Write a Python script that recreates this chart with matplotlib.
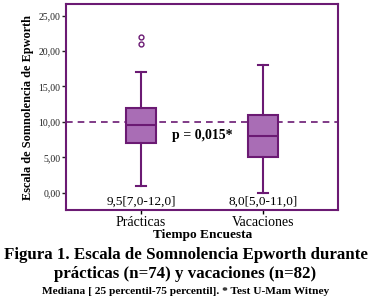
import matplotlib.pyplot as plt
from matplotlib.ticker import FuncFormatter

# summary stats
groups = ['Prácticas', 'Vacaciones']
medians = [9.5, 8.0]
q1 = [7.0, 5.0]
q3 = [12.0, 11.0]
whislo = [1.0, 0.0]
whishi = [17.0, 18.0]
outliers = [[21.0, 22.0], []]
labels_iqr = ['9,5[7,0-12,0]', '8,0[5,0-11,0]']
ref_line = 10.0
yticks = [0, 5, 10, 15, 20, 25]

dark = '#6b1a73'
fill = '#a96db5'

plt.rcParams['font.family'] = ['Liberation Serif', 'DejaVu Serif']

fig = plt.figure(figsize=(3.71, 3.01), dpi=100)
ax = fig.add_axes([0.178, 0.302, 0.733, 0.685])

stats = []
for i, g in enumerate(groups):
    stats.append(dict(label=g, med=medians[i], q1=q1[i], q3=q3[i],
                      whislo=whislo[i], whishi=whishi[i], fliers=outliers[i]))

ax.bxp(stats, positions=[1, 2], widths=0.24, patch_artist=True,
       boxprops=dict(facecolor=fill, edgecolor=dark, linewidth=1.5),
       medianprops=dict(color=dark, linewidth=1.5),
       whiskerprops=dict(color=dark, linewidth=1.5),
       capprops=dict(color=dark, linewidth=1.5),
       flierprops=dict(marker='o', markerfacecolor='none', markeredgecolor=dark,
                       markersize=3.5, markeredgewidth=1.0),
       capwidths=0.08)

ax.axhline(ref_line, color=dark, linestyle=(0, (4, 3)), linewidth=1.2, zorder=0.5)

ax.set_xlim(0.385, 2.615)
ax.set_ylim(-2.44, 26.65)
ax.set_yticks(yticks)
ax.yaxis.set_major_formatter(FuncFormatter(lambda v, p: f'{v:.2f}'.replace('.', ',')))
ax.set_xticks([1, 2])
ax.set_xticklabels(groups, fontsize=10)
ax.tick_params(axis='y', labelsize=7, length=3, width=1, pad=1, colors='#222222')
ax.tick_params(axis='x', length=3, width=1, pad=1)
for s in ax.spines.values():
    s.set_color(dark)
    s.set_linewidth(1.5)

for i, t in enumerate(labels_iqr):
    ax.text(i + 1, -1.25, t, ha='center', va='center', fontsize=9.5)
ax.text(1.5, 8.1, 'p = 0,015*', ha='center', va='center', fontsize=10, fontweight='bold')

ax.set_ylabel('Escala de Somnolencia de Epworth', fontsize=8.8, fontweight='bold', labelpad=3)
fig.text(0.545, 1 - 238 / 301, 'Tiempo Encuesta', ha='center', va='baseline',
         fontsize=9.6, fontweight='bold')

fig.text(0.5, 1 - 259 / 301, 'Figura 1. Escala de Somnolencia Epworth durante',
         ha='center', va='baseline', fontsize=12.2, fontweight='bold')
fig.text(0.5, 1 - 278 / 301, 'prácticas (n=74) y vacaciones (n=82)',
         ha='center', va='baseline', fontsize=12.2, fontweight='bold')
fig.text(0.5, 1 - 294 / 301, 'Mediana [ 25 percentil-75 percentil]. * Test U-Mam Witney',
         ha='center', va='baseline', fontsize=8.2, fontweight='bold')

fig.savefig('out.png', dpi=100)
